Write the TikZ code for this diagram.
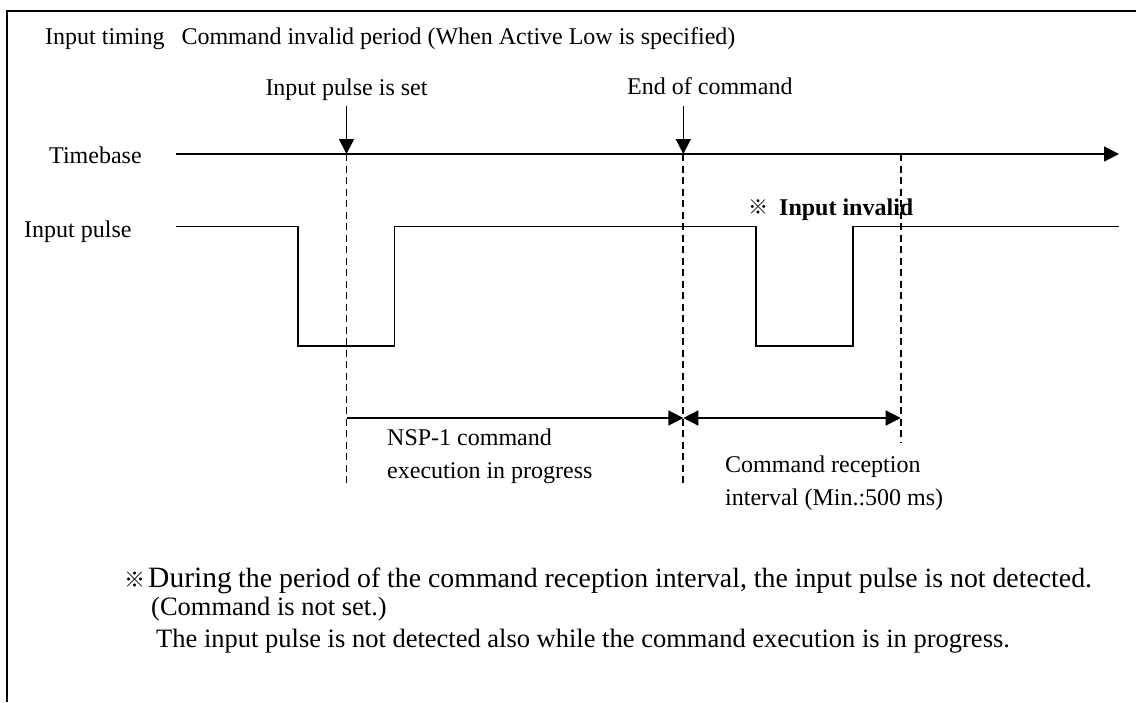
\documentclass[tikz,border=0pt]{standalone}
\usepackage{fontspec}
\setmainfont{Liberation Serif}
\newfontfamily\cjk{Noto Sans CJK JP}
\usetikzlibrary{arrows.meta}
\begin{document}
\begin{tikzpicture}[x=1pt,y=-1pt,
  wire/.style={line width=1.6pt},
  guide/.style={line width=1.7pt, dash pattern=on 7pt off 4.5pt},
  lbl/.style={font=\fontsize{24}{33}\selectfont, inner sep=0pt, align=left},
  notefont/.style={font=\fontsize{26.5}{30}\selectfont, inner sep=0pt},
  headend/.style={-{Triangle[length=15pt,width=15pt]}},
  headboth/.style={{Triangle[length=15pt,width=15pt]}-{Triangle[length=15pt,width=15pt]}}
]
\useasboundingbox (0,0) rectangle (1136,702);
\fill[white] (0,0) rectangle (1136,702);
% frame
\coordinate (fbl) at (7,702);
\coordinate (ftl) at (7,11);
\coordinate (ftr) at (1136,11);
\draw[line width=2.5pt] (fbl) -- (ftl) -- (ftr);

% title
\node[lbl, anchor=base west] (title) at (45,44) {Input timing\hspace{17pt}Command invalid period (When Active Low is specified)};

% event labels
\node[lbl, anchor=base] (setlbl) at (346.5,95) {Input pulse is set};
\node[lbl, anchor=base west] (endlbl) at (627,94) {End of command};

% time base
\node[lbl, anchor=base west] (tblbl) at (49,163) {Timebase};
\coordinate (tbs) at (176,154);
\coordinate (tbe) at (1119,154);
\draw[wire, headend] (tbs) -- (tbe);

% event arrows
\coordinate (a1t) at (346.5,106);
\coordinate (a1b) at (346.5,154);
\coordinate (a2t) at (683.3,106);
\coordinate (a2b) at (683.3,154);
\draw[wire, headend] (a1t) -- (a1b);
\draw[wire, headend] (a2t) -- (a2b);

% input pulse
\node[lbl, anchor=base west] (iplbl) at (24,237) {Input pulse};
\draw[wire] (176,226.5) -- (297.7,226.5) -- (297.7,345.7) -- (394.3,345.7) -- (394.3,226.5)
  -- (756,226.5) -- (756,345.7) -- (853,345.7) -- (853,226.5) -- (1119,226.5);

% input invalid
\node[inner sep=0pt, anchor=base west, font=\cjk\fontsize{20}{24}\selectfont] (mark) at (748,214) {※};
\node[lbl, anchor=base west, font=\bfseries\fontsize{24}{28}\selectfont] (invlbl) at (779,215) {Input invalid};

% dashed guides
\coordinate (d1t) at (346.5,154);
\coordinate (d1b) at (346.5,484);
\coordinate (d2t) at (683.3,154);
\coordinate (d2b) at (683.3,484);
\coordinate (d3t) at (900.7,154);
\coordinate (d3b) at (900.7,442);
\draw[guide] (d1t) -- (d1b);
\draw[guide] (d2t) -- (d2b);
\draw[guide] (d3t) -- (d3b);

% interval arrows
\coordinate (i1) at (346.5,418);
\coordinate (i2) at (683.3,418);
\coordinate (i3) at (900.7,418);
\draw[wire, headend] (i1) -- (i2);
\draw[wire, headboth] (i2) -- (i3);

\node[lbl, anchor=base west] (nsp) at (387,478) {NSP-1 command\\execution in progress};
\node[lbl, anchor=base west] (rcv) at (725,505) {Command reception\\interval (Min.:500 ms)};

% note
\node[inner sep=0pt, anchor=base west, font=\cjk\fontsize{21}{24}\selectfont] (nmark) at (124,587) {※};
\node[inner sep=0pt, anchor=base west, font=\fontsize{29.5}{32}\selectfont] (during) at (148,587) {During};
\node[inner sep=0pt, anchor=base west, font=\fontsize{27.8}{30}\selectfont] (note1) at (238,587)
  {the period of the command reception interval, the input pulse is not detected.};
\node[notefont, anchor=base west] (note2) at (151,615) {(Command is not set.)};
\node[notefont, anchor=base west] (note3) at (156,647) {The input pulse is not detected also while the command execution is in progress.};
\end{tikzpicture}
\end{document}
